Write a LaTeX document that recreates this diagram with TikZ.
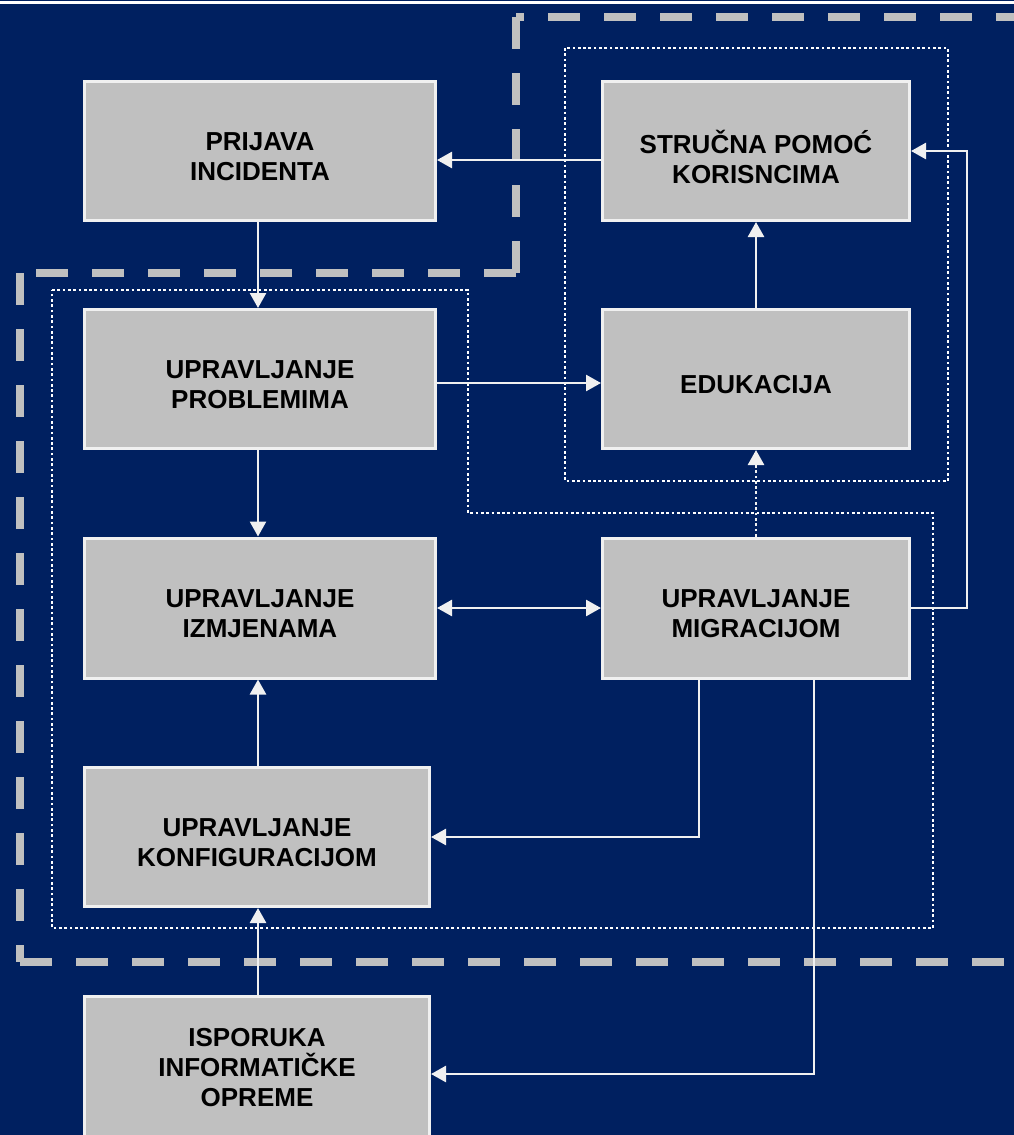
\documentclass[tikz,border=0pt]{standalone}
\usepackage{fontspec}
\setmainfont{Liberation Sans}
\usetikzlibrary{arrows.meta}
\definecolor{navy}{RGB}{0,32,96}
\definecolor{boxgray}{RGB}{192,192,192}
\definecolor{linewhite}{RGB}{240,240,240}
\tikzset{
  procbox/.style={rectangle, fill=boxgray, draw=linewhite, line width=3pt,
    inner sep=0pt},
  boxtext/.style={inner sep=0pt, align=center, text=black,
    font=\fontsize{26}{30}\selectfont\bfseries},
  flow/.style={draw=linewhite, line width=2.6pt,
    -{Triangle[length=15pt,width=16pt]}},
  dualflow/.style={draw=linewhite, line width=2.6pt,
    {Triangle[length=15pt,width=16pt]}-{Triangle[length=15pt,width=16pt]}},
  dotflow/.style={flow, dash pattern=on 2.7pt off 2.6pt},
  zone/.style={draw=boxgray, line width=8pt, line cap=butt},
  subzone/.style={draw=white, line width=2.8pt, dash pattern=on 2.7pt off 2.6pt}
}
\begin{document}
\begin{tikzpicture}[x=1pt,y=-1pt]
  \useasboundingbox (0,0) rectangle (1014,1135);
  \clip (0,0) rectangle (1014,1135);
  \fill[navy] (0,0) rectangle (1014,1135);
  \fill[white] (0,1) rectangle (1014,4);

  % outer dashed zones, each side with its own dash phase
  \draw[zone, dash pattern=on 32pt off 24pt, dash phase=24pt] (516,17) -- (1014,17);
  \draw[zone, dash pattern=on 32pt off 24pt] (516,17) -- (516,273);
  \draw[zone, dash pattern=on 32pt off 24pt] (516,273) -- (20,273);
  \draw[zone, dash pattern=on 32pt off 24pt] (20,273) -- (20,962);
  \draw[zone, dash pattern=on 32pt off 24pt] (20,962) -- (1014,962);

  % dotted sub-zones
  \draw[subzone] (565,48) rectangle (948,481);
  \draw[subzone] (52,290) -- (468,290) -- (468,513) -- (933,513) -- (933,928) -- (52,928) -- cycle;

  % process boxes
  \node[procbox, minimum width=351pt, minimum height=139pt] (prij) at (260,151) {};
  \node[procbox, minimum width=307pt, minimum height=139pt] (stru) at (756,151) {};
  \node[procbox, minimum width=351pt, minimum height=139pt] (prob) at (260,379) {};
  \node[procbox, minimum width=307pt, minimum height=139pt] (edu) at (756,379) {};
  \node[procbox, minimum width=351pt, minimum height=140pt] (izm) at (260,608) {};
  \node[procbox, minimum width=307pt, minimum height=140pt] (mig) at (756,608) {};
  \node[procbox, minimum width=345pt, minimum height=139pt] (konf) at (257,837) {};
  \node[procbox, minimum width=345pt, minimum height=157pt] (isp) at (257,1075) {};

  % box captions
  \node[boxtext] (prij-t) at ([yshift=-6pt]prij.center) {PRIJAVA\\INCIDENTA};
  \node[boxtext] (stru-t) at ([yshift=-6pt]stru.center) {STRUČNA POMOĆ\\KORISNCIMA};
  \node[boxtext] (prob-t) at ([yshift=-6pt]prob.center) {UPRAVLJANJE\\PROBLEMIMA};
  \node[boxtext] (edu-t)  at ([yshift=-6pt]edu.center)  {EDUKACIJA};
  \node[boxtext] (izm-t)  at ([yshift=-6pt]izm.center)  {UPRAVLJANJE\\IZMJENAMA};
  \node[boxtext] (mig-t)  at ([yshift=-6pt]mig.center)  {UPRAVLJANJE\\MIGRACIJOM};
  \node[boxtext] (konf-t) at ([yshift=-6pt]konf.center) {UPRAVLJANJE\\KONFIGURACIJOM};
  \node[boxtext] (isp-t)  at ([yshift=7pt]isp.center)   {ISPORUKA\\INFORMATIČKE\\OPREME};

  % connectors
  \draw[flow] ([yshift=-9pt]stru.west) -- ([yshift=-9pt]prij.east);
  \draw[flow] ([xshift=-2pt]prij.south) -- ([xshift=-2pt]prob.north);
  \draw[flow] ([yshift=-4pt]prob.east) -- ([yshift=-4pt]edu.west);
  \draw[flow] (edu.north) -- (stru.south);
  \draw[flow] ([xshift=-2pt]prob.south) -- ([xshift=-2pt]izm.north);
  \draw[dualflow] (izm.east) -- (mig.west);
  \draw[dotflow] (mig.north) -- (edu.south);
  \draw[flow] (mig.east) -- ++(56,0) |- (stru.east);
  \draw[flow] ([xshift=1pt]konf.north) -- ([xshift=-2pt]izm.south);
  \draw[flow] ([xshift=-57pt]mig.south) |- (konf.east);
  \draw[flow] ([xshift=1pt]isp.north) -- ([xshift=1pt]konf.south);
  \draw[flow] ([xshift=58pt]mig.south) |- ([yshift=1pt]isp.east);
\end{tikzpicture}
\end{document}
